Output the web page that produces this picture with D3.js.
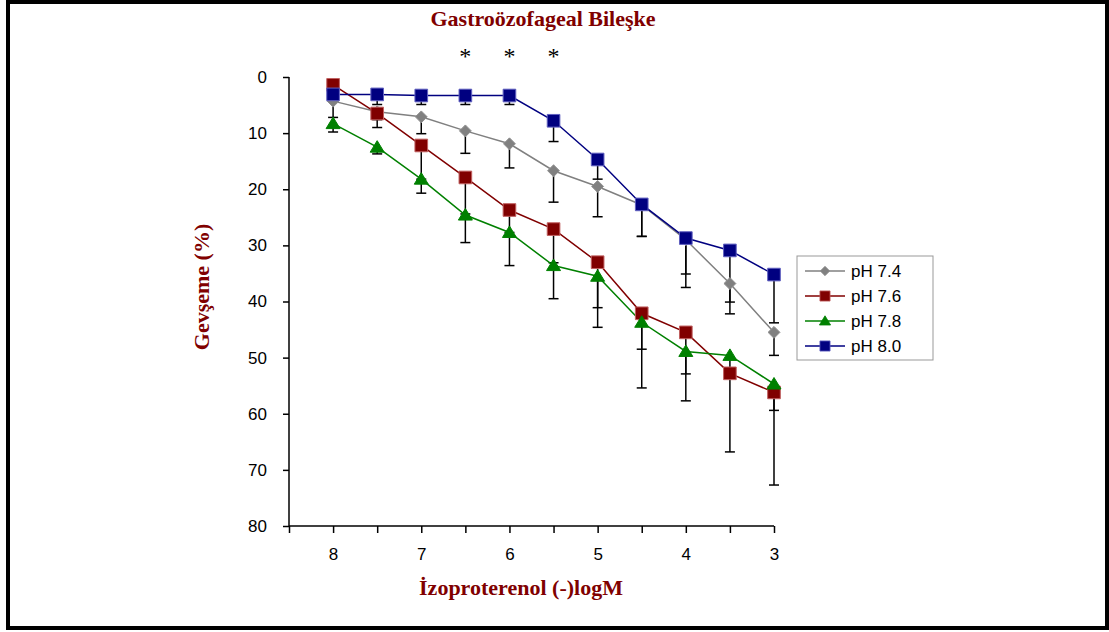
<!DOCTYPE html>
<html>
<head>
<meta charset="utf-8">
<script src="https://cdn.jsdelivr.net/npm/d3@7"></script>
<style>
  body { margin: 0; background: #fff; }
  svg { display: block; }
</style>
</head>
<body>
<svg id="chart"></svg>
<script>
// doz noktaları (-logM)
const doses = [8, 7.5, 7, 6.5, 6, 5.5, 5, 4.5, 4, 3.5, 3];

// ortalama gevşeme (%)
const ph74 = [4.3, 6.2, 7.1, 9.6, 11.9, 16.7, 19.5, 22.8, 29.0, 36.8, 45.5];
const ph76 = [1.4, 6.5, 12.2, 17.9, 23.7, 27.1, 33.0, 42.1, 45.5, 52.8, 56.2];
const ph78 = [8.3, 12.5, 18.2, 24.6, 27.7, 33.6, 35.5, 43.7, 48.9, 49.6, 54.7];
const ph80 = [3.1, 3.1, 3.3, 3.3, 3.3, 7.8, 14.7, 22.7, 28.7, 30.9, 35.2];

// hata çubukları (SEM, sadece aşağı doğru)
const sem74 = [2.9, 1.4, 3.0, 4.0, 4.3, 5.6, 5.4, 5.6, 8.5, 5.4, 4.1];
const sem76 = [2.0, 2.5, 6.0, 6.5, 4.0, 6.0, 8.1, 6.4, 7.4, 14.0, 16.5];
const sem78 = [1.5, 1.2, 2.5, 4.9, 5.9, 5.9, 9.1, 11.7, 8.8, 2.5, 4.7];
const sem80 = [1.2, 1.8, 1.6, 1.6, 1.6, 3.7, 3.5, 5.7, 6.4, 9.2, 8.6];

const seriesNames = ["pH 7.4", "pH 7.6", "pH 7.8", "pH 8.0"];
const yTicks = [0, 10, 20, 30, 40, 50, 60, 70, 80];
const xTickLabels = [8, 7, 6, 5, 4, 3];
const starDoses = [6.5, 6, 5.5];

const width = 1109;
const height = 632;

const styles = [
  { color: "#808080", fill: "#808080", stroke: "#909090", shape: "diamond" },
  { color: "#800000", fill: "#800000", stroke: "#c06060", shape: "square" },
  { color: "#008000", fill: "#008000", stroke: "#008000", shape: "triangle" },
  { color: "#000080", fill: "#000080", stroke: "#6060c0", shape: "square" }
];

const series = [ph74, ph76, ph78, ph80].map((vals, i) => ({
  name: seriesNames[i],
  style: styles[i],
  points: doses.map((d, j) => ({ x: d, y: vals[j], e: [sem74, sem76, sem78, sem80][i][j] }))
}));

const svg = d3.select("#chart").attr("width", width).attr("height", height);

// çerçeve
svg.append("rect")
  .attr("x", 8).attr("y", 2)
  .attr("width", 1099).attr("height", 626)
  .attr("fill", "none")
  .attr("stroke", "#000")
  .attr("stroke-width", 4);

const x = d3.scaleLinear().domain([8.5, 3]).range([289, 774]);
const y = d3.scaleLinear().domain([0, 80]).range([77, 526]);

const sans = "Arial, 'Liberation Sans', sans-serif";

// y ekseni
const yAxis = svg.append("g")
  .attr("transform", "translate(289,0)")
  .call(d3.axisLeft(y).tickValues(yTicks).tickSize(6).tickPadding(16));
yAxis.select(".domain").attr("stroke", "#000").attr("stroke-width", 1.5).attr("d", `M0,${y(0)}V${y(80)}`);
yAxis.selectAll(".tick line").attr("stroke-width", 1.5);
yAxis.selectAll("text").attr("font-family", sans).attr("font-size", 17).attr("fill", "#000");

// x ekseni
const xAxis = svg.append("g")
  .attr("transform", "translate(0,526)")
  .call(d3.axisBottom(x).tickValues(d3.range(8.5, 2.99, -0.5)).tickSize(7).tickPadding(15)
    .tickFormat(d => xTickLabels.includes(d) ? d : ""));
xAxis.select(".domain").attr("stroke", "#000").attr("stroke-width", 1.5).attr("d", `M${x(8.5)},0H${x(3)}`);
xAxis.selectAll(".tick line").attr("stroke-width", 1.5);
xAxis.selectAll("text").attr("font-family", sans).attr("font-size", 17).attr("fill", "#000");

// hata çubukları
const errG = svg.append("g").attr("stroke", "#000").attr("stroke-width", 1.5);
series.forEach(s => {
  s.points.forEach(p => {
    errG.append("line")
      .attr("x1", x(p.x)).attr("x2", x(p.x))
      .attr("y1", y(p.y)).attr("y2", y(p.y + p.e));
    errG.append("line")
      .attr("x1", x(p.x) - 5).attr("x2", x(p.x) + 5)
      .attr("y1", y(p.y + p.e)).attr("y2", y(p.y + p.e));
  });
});

const symbolFor = shape => {
  if (shape === "diamond") return d3.symbol().type(d3.symbolDiamond2 || d3.symbolDiamond).size(90)();
  if (shape === "triangle") return "M0,-6.5L7,5L-7,5Z";
  return d3.symbol().type(d3.symbolSquare).size(160)();
};

const line = d3.line().x(d => x(d.x)).y(d => y(d.y));

series.forEach(s => {
  svg.append("path")
    .datum(s.points)
    .attr("d", line)
    .attr("fill", "none")
    .attr("stroke", s.style.color)
    .attr("stroke-width", 1.5);
});

series.forEach(s => {
  svg.append("g").selectAll("path")
    .data(s.points)
    .join("path")
    .attr("transform", d => `translate(${x(d.x)},${y(d.y)})`)
    .attr("d", symbolFor(s.style.shape))
    .attr("fill", s.style.fill)
    .attr("stroke", s.style.stroke)
    .attr("stroke-width", 1);
});

// başlık ve yıldızlar
const serif = "'Times New Roman', 'Liberation Serif', serif";
svg.append("text")
  .attr("x", 543).attr("y", 26)
  .attr("text-anchor", "middle")
  .attr("font-family", serif).attr("font-weight", "bold").attr("font-size", 22)
  .attr("fill", "#800000")
  .text("Gastroözofageal Bileşke");

svg.append("g").selectAll("text")
  .data(starDoses)
  .join("text")
  .attr("x", d => x(d)).attr("y", 64)
  .attr("text-anchor", "middle")
  .attr("font-family", serif).attr("font-size", 24)
  .text("*");

svg.append("text")
  .attr("x", 521).attr("y", 595)
  .attr("text-anchor", "middle")
  .attr("font-family", serif).attr("font-weight", "bold").attr("font-size", 22)
  .attr("fill", "#800000")
  .text("İzoproterenol (-)logM");

svg.append("text")
  .attr("transform", "translate(209,287) rotate(-90)")
  .attr("text-anchor", "middle")
  .attr("font-family", serif).attr("font-weight", "bold").attr("font-size", 22)
  .attr("fill", "#800000")
  .text("Gevşeme (%)");

// lejant
const legend = svg.append("g").attr("transform", "translate(797,256)");
legend.append("rect")
  .attr("width", 136).attr("height", 104)
  .attr("fill", "#fff").attr("stroke", "#999").attr("stroke-width", 1);
series.forEach((s, i) => {
  const g = legend.append("g").attr("transform", `translate(0,${15 + i * 25})`);
  g.append("line").attr("x1", 8).attr("x2", 48).attr("stroke", s.style.color).attr("stroke-width", 1.5);
  g.append("path")
    .attr("transform", "translate(28,0) scale(0.8)")
    .attr("d", symbolFor(s.style.shape))
    .attr("fill", s.style.fill).attr("stroke", s.style.stroke);
  g.append("text")
    .attr("x", 54).attr("y", 6)
    .attr("font-family", sans).attr("font-size", 17)
    .text(s.name);
});
</script>
</body>
</html>
